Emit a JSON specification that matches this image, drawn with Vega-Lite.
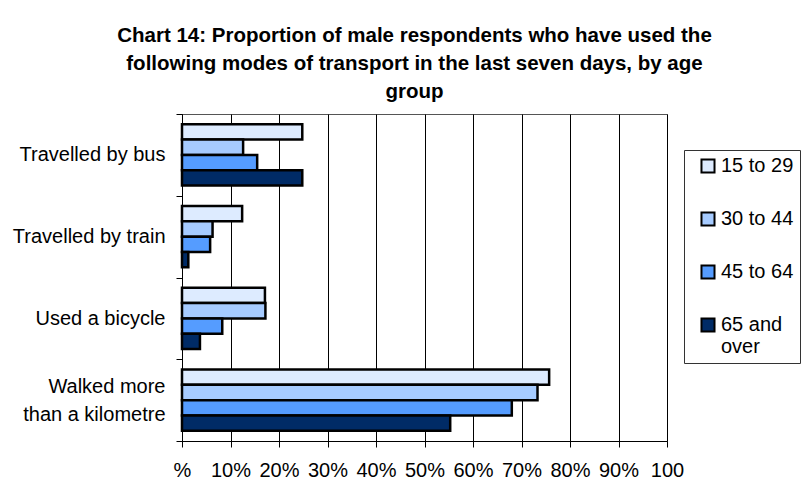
{
  "$schema": "https://vega.github.io/schema/vega-lite/v6.json",
  "width": 485,
  "height": 327,
  "autosize": {"type": "none"},
  "padding": {"left": 182, "top": 114, "right": 138, "bottom": 45},
  "background": "white",
  "title": {
    "text": ["Chart 14: Proportion of male respondents who have used the", "following modes of transport in the last seven days, by age", "group"],
    "font": "Liberation Sans",
    "fontSize": 20.5,
    "fontWeight": "bold",
    "color": "black",
    "anchor": "middle",
    "lineHeight": 28,
    "offset": 2,
    "dx": -10
  },
  "data": {
    "values": [
      {"mode": "Travelled by bus", "age": "15 to 29", "pct": 24.8},
      {"mode": "Travelled by bus", "age": "30 to 44", "pct": 12.6},
      {"mode": "Travelled by bus", "age": "45 to 64", "pct": 15.5},
      {"mode": "Travelled by bus", "age": "65 and over", "pct": 24.8},
      {"mode": "Travelled by train", "age": "15 to 29", "pct": 12.4},
      {"mode": "Travelled by train", "age": "30 to 44", "pct": 6.3},
      {"mode": "Travelled by train", "age": "45 to 64", "pct": 5.8},
      {"mode": "Travelled by train", "age": "65 and over", "pct": 1.3},
      {"mode": "Used a bicycle", "age": "15 to 29", "pct": 17.1},
      {"mode": "Used a bicycle", "age": "30 to 44", "pct": 17.2},
      {"mode": "Used a bicycle", "age": "45 to 64", "pct": 8.3},
      {"mode": "Used a bicycle", "age": "65 and over", "pct": 3.7},
      {"mode": "Walked more than a kilometre", "age": "15 to 29", "pct": 75.7},
      {"mode": "Walked more than a kilometre", "age": "30 to 44", "pct": 73.3},
      {"mode": "Walked more than a kilometre", "age": "45 to 64", "pct": 68.0},
      {"mode": "Walked more than a kilometre", "age": "65 and over", "pct": 55.3}
    ]
  },
  "mark": {"type": "bar", "stroke": "black", "strokeWidth": 2.5},
  "encoding": {
    "y": {
      "field": "mode",
      "type": "nominal",
      "sort": null,
      "title": null,
      "scale": {"paddingInner": 0, "paddingOuter": 0},
      "axis": {
        "tickBand": "extent",
        "labelExpr": "datum.label == 'Walked more than a kilometre' ? ['Walked more', 'than a kilometre'] : datum.label",
        "labelOffset": {"condition": {"test": "datum.value == 'Walked more than a kilometre'", "value": -14}, "value": 0},
        "labelFont": "Liberation Sans",
        "labelFontSize": 20,
        "labelColor": "black",
        "labelLineHeight": 28,
        "labelPadding": 11,
        "tickSize": 6,
        "tickColor": "black",
        "domainColor": "black",
        "labelLimit": 300
      }
    },
    "yOffset": {
      "field": "age",
      "type": "nominal",
      "sort": null,
      "scale": {"paddingInner": 0, "paddingOuter": 0.68}
    },
    "x": {
      "field": "pct",
      "type": "quantitative",
      "title": null,
      "scale": {"domain": [0, 100], "nice": false},
      "axis": {
        "values": [0, 10, 20, 30, 40, 50, 60, 70, 80, 90, 100],
        "labelExpr": "datum.value == 0 ? '%' : datum.value == 100 ? '100' : datum.value + '%'",
        "labelFont": "Liberation Sans",
        "labelFontSize": 20,
        "labelColor": "black",
        "labelPadding": 13,
        "labelFlush": false,
        "labelOverlap": false,
        "tickSize": 6,
        "tickColor": "black",
        "domainColor": "black",
        "grid": true,
        "gridColor": "black",
        "gridWidth": 1
      }
    },
    "color": {
      "field": "age",
      "type": "nominal",
      "sort": null,
      "scale": {
        "domain": ["15 to 29", "30 to 44", "45 to 64", "65 and over"],
        "range": ["#DDEBFF", "#A6CBFF", "#559CFF", "#002B66"]
      },
      "legend": {
        "title": null,
        "orient": "none",
        "legendX": 502,
        "legendY": 36,
        "padding": 6,
        "strokeColor": "#333",
        "fillColor": "white",
        "symbolType": "square",
        "symbolSize": 170,
        "symbolStrokeColor": "black",
        "symbolStrokeWidth": 2,
        "symbolOpacity": 1,
        "symbolOffset": 8,
        "labelFont": "Liberation Sans",
        "labelFontSize": 20,
        "labelColor": "black",
        "labelLineHeight": 26,
        "labelOffset": 3,
        "rowPadding": 31,
        "labelExpr": "datum.label == '65 and over' ? ['65 and', 'over'] : datum.label"
      }
    }
  },
  "config": {
    "view": {"stroke": "#555", "strokeWidth": 1},
    "axis": {"domainWidth": 1, "tickWidth": 1}
  }
}
